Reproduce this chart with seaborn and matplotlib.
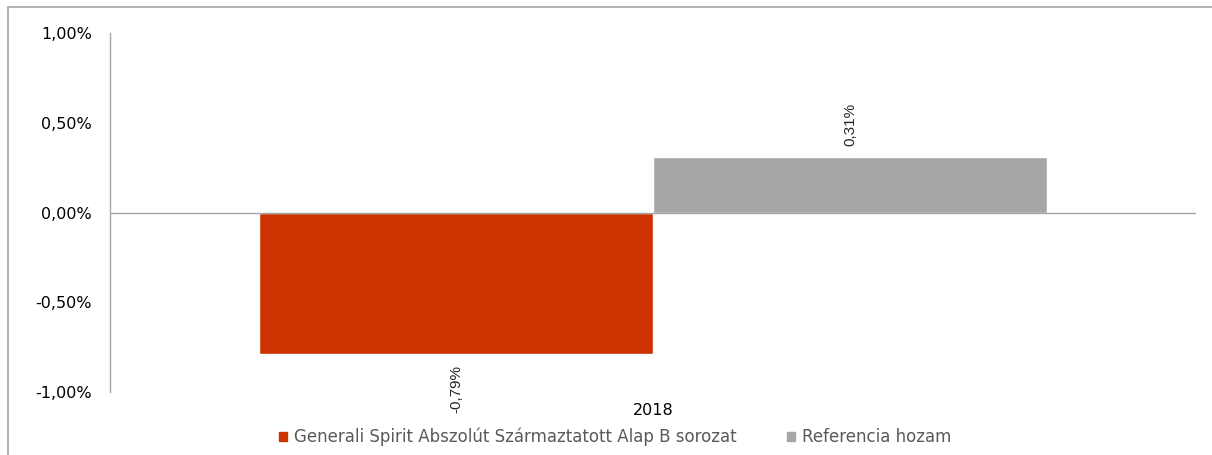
import matplotlib
matplotlib.use("Agg")
import matplotlib.pyplot as plt
from matplotlib.lines import Line2D
from matplotlib.ticker import FuncFormatter
import pandas as pd
import seaborn as sns

years = ["2018"]
series = ["Generali Spirit Abszolút Származtatott Alap B sorozat", "Referencia hozam"]
fund_returns = [-0.79]
ref_returns = [0.31]
colors = ["#CD3300", "#A6A6A6"]
y_ticks = [-1.0, -0.5, 0.0, 0.5, 1.0]

df = pd.DataFrame(
    {
        "year": years * 2,
        "series": [series[0]] * len(years) + [series[1]] * len(years),
        "value": fund_returns + ref_returns,
    }
)

sns.set_theme(style="white")
plt.rcParams["font.family"] = ["DejaVu Sans"]

fig = plt.figure(figsize=(12.12, 4.55), dpi=100)
ax = fig.add_axes([110 / 1212, 1 - 392 / 455, (1196 - 110) / 1212, (392 - 33) / 455])

sns.barplot(
    data=df, x="year", y="value", hue="series", palette=colors,
    width=0.726, saturation=1, ax=ax, legend=False,
)

ax.set_xlim(-0.5, 0.5)
ax.set_ylim(-1.0, 1.0)
ax.set_yticks(y_ticks)
ax.yaxis.set_major_formatter(FuncFormatter(lambda v, _: f"{v:.2f}%".replace(".", ",")))
ax.tick_params(axis="y", labelsize=11.5, length=0, pad=13, colors="#000000")
ax.tick_params(axis="x", labelsize=11.5, length=0, pad=8, colors="#000000")
ax.set_xlabel("")
ax.set_ylabel("")
for side in ["top", "right", "bottom"]:
    ax.spines[side].set_visible(False)
ax.spines["left"].set_color("#A6A6A6")
ax.spines["left"].set_linewidth(1)
ax.axhline(0, color="#A6A6A6", linewidth=1, zorder=3)

# value labels, rotated like the original
for container in ax.containers:
    for bar in container:
        h = bar.get_height()
        x = bar.get_x() + bar.get_width() / 2
        label = f"{h:.2f}%".replace(".", ",")
        if h >= 0:
            ax.annotate(label, (x, h), xytext=(0, 8), textcoords="offset points",
                        rotation=90, ha="center", va="bottom", fontsize=11,
                        family="Liberation Sans")
        else:
            ax.annotate(label, (x, h), xytext=(0, -8), textcoords="offset points",
                        rotation=90, ha="center", va="top", fontsize=11,
                        family="Liberation Sans")

handles = [plt.Rectangle((0, 0), 1, 1, color=c) for c in colors]
fig.legend(
    handles, series, loc="center", bbox_to_anchor=(615 / 1212, 1 - 437 / 455),
    ncol=2, frameon=False, fontsize=12, handlelength=0.5, handleheight=0.5,
    handletextpad=0.4, columnspacing=3.0, labelcolor="#595959",
)

# outer frame lines (top and left only visible)
fig.add_artist(Line2D([8 / 1212, 1], [1 - 7 / 455, 1 - 7 / 455], color="#A6A6A6", linewidth=1.2))
fig.add_artist(Line2D([8 / 1212, 8 / 1212], [0, 1 - 7 / 455], color="#A6A6A6", linewidth=1.2))

fig.savefig("out.png", dpi=100)
